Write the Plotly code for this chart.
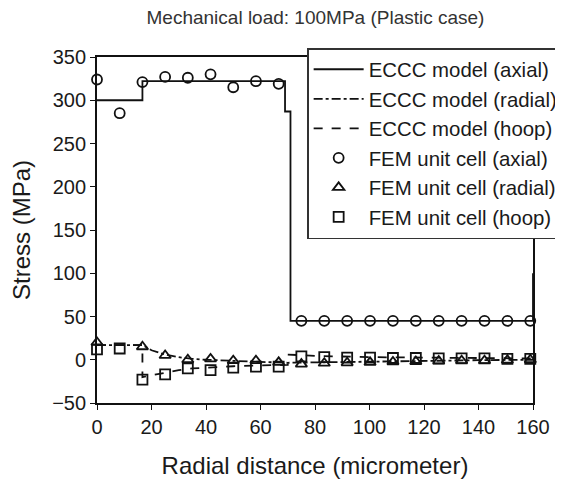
import plotly.graph_objects as go

# ECCC model (analytical) curves
eccc_axial_x = [0, 16.67, 16.67, 69, 69, 71, 71, 160, 160]
eccc_axial_y = [300, 300, 322, 322, 287, 287, 45, 45, 100]

eccc_radial_x = [0, 16.67, 20, 25, 30, 35, 40, 50, 60, 70, 80, 100, 120, 140, 160]
eccc_radial_y = [17, 17, 11, 6, 3, 1, 0, -1.5, -2.5, -3.5, -3, -2, -1, -0.5, 0]

eccc_hoop_x = [0, 16.67, 16.67, 20, 25, 30, 35, 40, 50, 60, 70, 70, 80, 100, 120, 140, 160]
eccc_hoop_y = [17, 17, -20, -18, -15, -12, -10, -9, -7.5, -6.5, -6, 6, 4.5, 3, 2.5, 2, 1.5]

# FEM unit cell results
fem_x = [0, 8.33, 16.67, 25, 33.33, 41.67, 50, 58.33, 66.67,
         75, 83.4, 91.8, 100.2, 108.6, 117, 125.4, 133.8, 142.2, 150.6, 159]
fem_axial = [324, 285, 321, 327, 326, 330, 315, 322, 319,
             45, 45, 45, 45, 45, 45, 45, 45, 45, 45, 45]

fem_radial_x = [0, 16.67, 25, 33.33, 41.67, 50, 58.33, 66.67,
                75, 83.4, 91.8, 100.2, 108.6, 117, 125.4, 133.8, 142.2, 150.6, 159]
fem_radial = [20, 15, 5, 0, 1, -1, -1, -3,
              -5, -4, -3.5, -3, -2.5, -2, -1.5, -1, -1, -0.5, 0]

fem_hoop = [12, 13, -23, -17, -10, -12, -9, -8, -8,
            4, 3, 2.5, 2.5, 2, 2, 1.5, 1.5, 1.5, 1, 1]

x_ticks = [0, 20, 40, 60, 80, 100, 120, 140, 160]
y_ticks = [-50, 0, 50, 100, 150, 200, 250, 300, 350]

ink = "#111111"
txt = "#1a1a1a"
lw = 1.8

fig = go.Figure()
fig.add_trace(go.Scatter(x=eccc_axial_x, y=eccc_axial_y, mode="lines",
                         line=dict(color=ink, width=lw), name="ECCC model (axial)",
                         cliponaxis=False))
fig.add_trace(go.Scatter(x=eccc_radial_x, y=eccc_radial_y, mode="lines",
                         line=dict(color=ink, width=lw, dash="dashdot"),
                         name="ECCC model (radial)", cliponaxis=False))
fig.add_trace(go.Scatter(x=eccc_hoop_x, y=eccc_hoop_y, mode="lines",
                         line=dict(color=ink, width=lw, dash="dash"),
                         name="ECCC model (hoop)", cliponaxis=False))
fig.add_trace(go.Scatter(x=fem_x, y=fem_axial, mode="markers",
                         marker=dict(symbol="circle-open", size=10, color=ink,
                                     line=dict(width=lw)),
                         name="FEM unit cell (axial)", cliponaxis=False))
fig.add_trace(go.Scatter(x=fem_radial_x, y=fem_radial, mode="markers",
                         marker=dict(symbol="triangle-up-open", size=10, color=ink,
                                     line=dict(width=lw)),
                         name="FEM unit cell (radial)", cliponaxis=False))
fig.add_trace(go.Scatter(x=fem_x, y=fem_hoop, mode="markers",
                         marker=dict(symbol="square-open", size=10, color=ink,
                                     line=dict(width=lw)),
                         name="FEM unit cell (hoop)", cliponaxis=False))

fig.update_layout(
    width=555, height=478,
    margin=dict(l=89, r=30, t=49, b=83, autoexpand=False),
    paper_bgcolor="white", plot_bgcolor="white",
    font=dict(family="Liberation Sans, Arial, sans-serif", color=txt, size=20),
    title=dict(text="Mechanical load: 100MPa (Plastic case)", x=0.554, xanchor="center",
               y=0.981, yanchor="middle", font=dict(size=19, color="#333333")),
    legend=dict(x=0.482, y=1.026, xanchor="left", yanchor="top",
                bgcolor="white", bordercolor="#333333", borderwidth=1.5,
                font=dict(size=20.4, color=txt), tracegroupgap=0, itemwidth=50),
    showlegend=True,
)
fig.update_xaxes(range=[0, 160], tickvals=x_ticks, ticks="outside", ticklen=5,
                 tickcolor=ink, showline=True, linecolor=ink, linewidth=lw,
                 mirror=True, showgrid=False, zeroline=False, automargin=True,
                 title=dict(text="Radial distance (micrometer)", font=dict(size=24), standoff=20),
                 tickfont=dict(size=20))
fig.update_yaxes(range=[-50, 350], tickvals=y_ticks, ticks="outside", ticklen=5,
                 tickcolor=ink, showline=True, linecolor=ink, linewidth=lw,
                 mirror=True, showgrid=False, zeroline=False, automargin=True,
                 title=dict(text="Stress (MPa)", font=dict(size=24), standoff=24),
                 tickfont=dict(size=20))

fig.write_html("out.html")
